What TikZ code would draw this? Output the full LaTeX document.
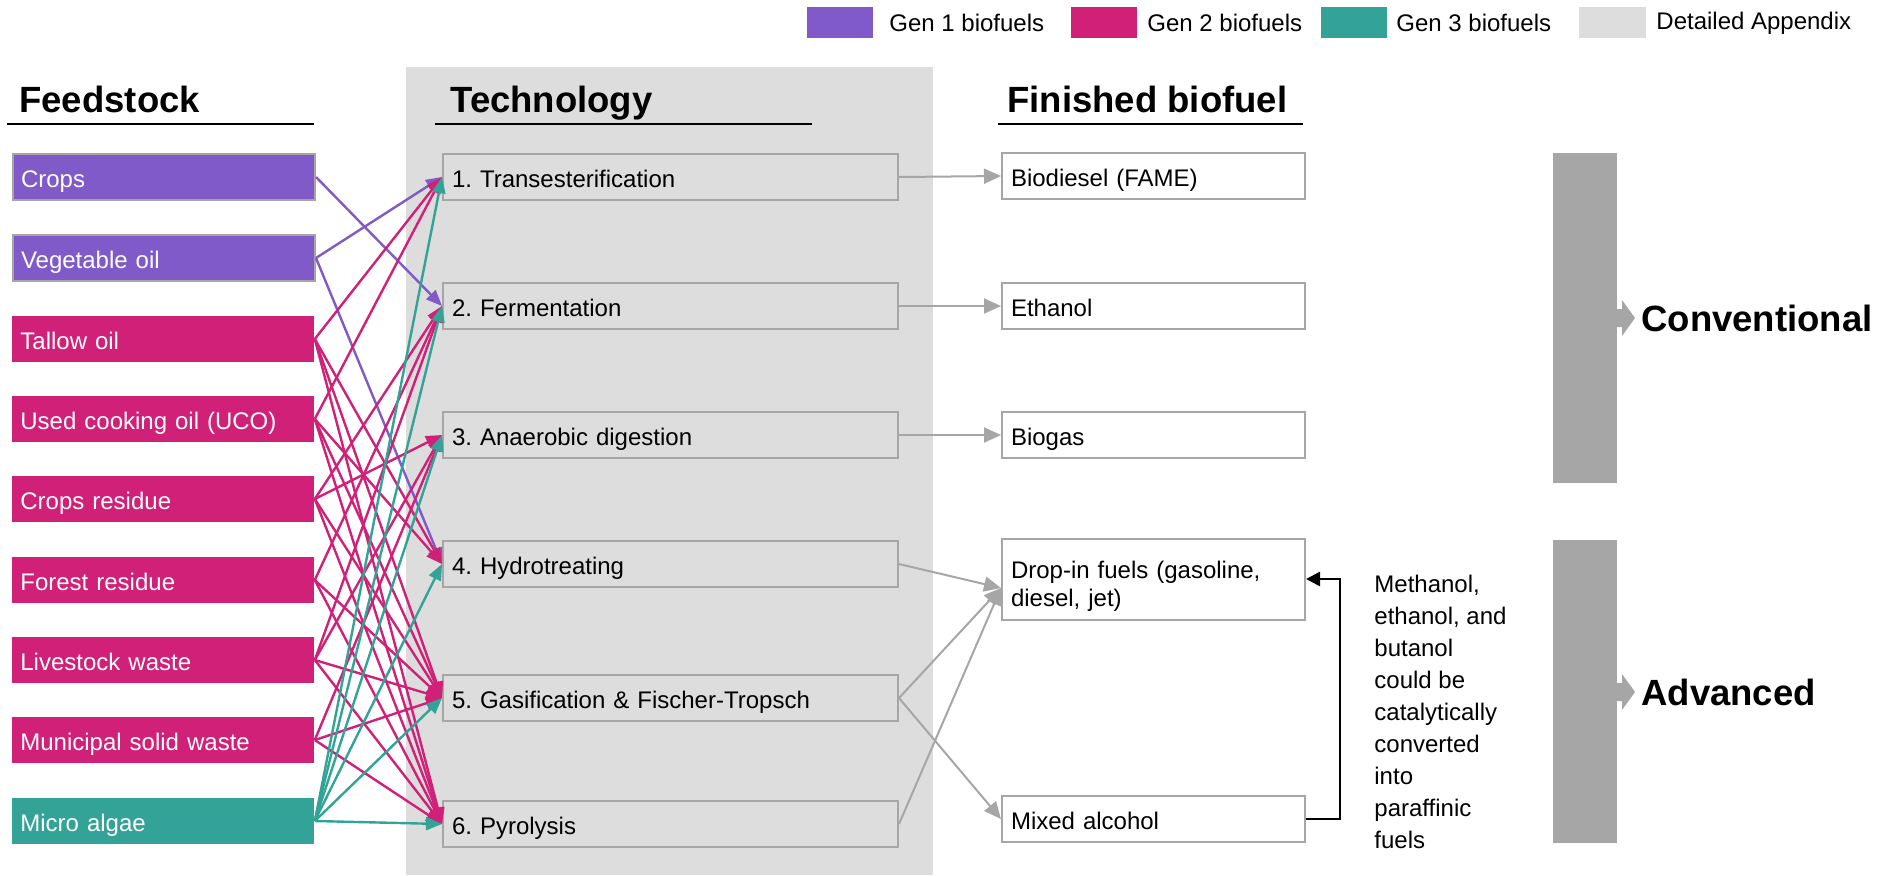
\documentclass[tikz,border=0pt]{standalone}
\usepackage{fontspec}
\setmainfont{Liberation Sans}
\usetikzlibrary{arrows.meta}
\frenchspacing
\definecolor{genone}{HTML}{7F5AC8}
\definecolor{gentwo}{HTML}{D02078}
\definecolor{genthree}{HTML}{33A397}
\definecolor{appgrey}{HTML}{DDDDDD}
\definecolor{edgegrey}{HTML}{A6A6A6}

\tikzset{
  boxbase/.style={anchor=west, minimum height=23pt, inner ysep=0pt, align=left,
    font=\fontsize{12}{13.8}\selectfont},
  oneline/.style={text height=10pt, text depth=0pt},
  feed/.style={boxbase, oneline, text width=143pt, inner xsep=4pt, text=white},
  tech/.style={boxbase, oneline, text width=218.5pt, inner xsep=4.5pt,
    draw=edgegrey, line width=1pt, fill=appgrey},
  fuelbox/.style={boxbase, text width=142.5pt, inner xsep=4.5pt,
    draw=edgegrey, line width=1pt, fill=white},
  fuel/.style={fuelbox, oneline},
  heading/.style={anchor=base west, inner sep=0pt, font=\fontsize{18.25}{20}\selectfont\bfseries},
  legtext/.style={anchor=west, inner sep=0pt, font=\fontsize{12}{14}\selectfont},
  rule/.style={black, line width=1.2pt},
  gone/.style={genone, line width=1.2pt, -{Triangle[length=8pt,width=6.5pt]}},
  gtwo/.style={gentwo, line width=1.2pt, -{Triangle[length=8pt,width=6.5pt]}},
  gthree/.style={genthree, line width=1.2pt, -{Triangle[length=8pt,width=6.5pt]}},
  product/.style={edgegrey, line width=1pt, -{Triangle[length=8.5pt,width=7.5pt]}},
}

\begin{document}
\begin{tikzpicture}[x=0.5pt,y=-0.5pt]
  \useasboundingbox (0,0) rectangle (1878,875);

  % legend
  \fill[genone] (807,7) rectangle (873,38);
  \node[legtext] (leg1) at (889,23) {Gen 1 biofuels};
  \fill[gentwo] (1071,7) rectangle (1137,38);
  \node[legtext] (leg2) at (1147,23) {Gen 2 biofuels};
  \fill[genthree] (1321,7) rectangle (1387,38);
  \node[legtext] (leg3) at (1396,23) {Gen 3 biofuels};
  \fill[appgrey] (1579,7) rectangle (1646,38);
  \node[legtext] (leg4) at (1656,23) {Detailed Appendix};

  % appendix panel
  \fill[appgrey] (406,67) rectangle (933,875);

  % headings
  \node[heading] (feedhead) at (19,112) {Feedstock};
  \draw[rule] (7,124) -- (314,124);
  \node[heading] (techhead) at (450,112) {Technology};
  \draw[rule] (435,124) -- (812,124);
  \node[heading] (fuelhead) at (1007,112) {Finished biofuel};
  \draw[rule] (998,124) -- (1303,124);

  % feedstock
  \node[feed, fill=genone, draw=edgegrey, line width=1pt] (crops) at (12,177) {Crops};
  \node[feed, fill=genone, draw=edgegrey, line width=1pt] (veg) at (12,258) {Vegetable oil};
  \node[feed, fill=gentwo] (tallow) at (12,339) {Tallow oil};
  \node[feed, fill=gentwo] (uco) at (12,419) {Used cooking oil (UCO)};
  \node[feed, fill=gentwo] (cropres) at (12,499) {Crops residue};
  \node[feed, fill=gentwo] (forres) at (12,580) {Forest residue};
  \node[feed, fill=gentwo] (livestock) at (12,660) {Livestock waste};
  \node[feed, fill=gentwo] (msw) at (12,740) {Municipal solid waste};
  \node[feed, fill=genthree] (algae) at (12,821) {Micro algae};

  % technology
  \node[tech] (tech1) at (442,177) {1. Transesterification};
  \node[tech] (tech2) at (442,306) {2. Fermentation};
  \node[tech] (tech3) at (442,435) {3. Anaerobic digestion};
  \node[tech] (tech4) at (442,564) {4. Hydrotreating};
  \node[tech] (tech5) at (442,698) {5. Gasification \& Fischer-Tropsch};
  \node[tech] (tech6) at (442,824) {6. Pyrolysis};

  % finished biofuel
  \node[fuel] (fame) at (1001,176) {Biodiesel (FAME)};
  \node[fuel] (ethanol) at (1001,306) {Ethanol};
  \node[fuel] (biogas) at (1001,435) {Biogas};
  \node[fuelbox, minimum height=40.5pt] (dropin) at (1001,579) {\rule{0pt}{16pt}Drop-in fuels (gasoline,\\diesel, jet)};
  \node[fuel] (mixalc) at (1001,819) {Mixed alcohol};
  \coordinate (dropentry) at ([yshift=-4.5pt]dropin.west);

  % feedstock to technology
  \draw[gone] (crops.east) -- (tech2.west);
  \draw[gone] (veg.east) -- (tech1.west);
  \draw[gone] (veg.east) -- (tech4.west);
  \draw[gtwo] (tallow.east) -- (tech1.west);
  \draw[gtwo] (tallow.east) -- (tech4.west);
  \draw[gtwo] (tallow.east) -- (tech5.west);
  \draw[gtwo] (tallow.east) -- (tech6.west);
  \draw[gtwo] (uco.east) -- (tech1.west);
  \draw[gtwo] (uco.east) -- (tech4.west);
  \draw[gtwo] (uco.east) -- (tech5.west);
  \draw[gtwo] (uco.east) -- (tech6.west);
  \draw[gtwo] (cropres.east) -- (tech2.west);
  \draw[gtwo] (cropres.east) -- (tech3.west);
  \draw[gtwo] (cropres.east) -- (tech5.west);
  \draw[gtwo] (cropres.east) -- (tech6.west);
  \draw[gtwo] (forres.east) -- (tech2.west);
  \draw[gtwo] (forres.east) -- (tech5.west);
  \draw[gtwo] (forres.east) -- (tech6.west);
  \draw[gtwo] (livestock.east) -- (tech2.west);
  \draw[gtwo] (livestock.east) -- (tech3.west);
  \draw[gtwo] (livestock.east) -- (tech5.west);
  \draw[gtwo] (livestock.east) -- (tech6.west);
  \draw[gtwo] (msw.east) -- (tech3.west);
  \draw[gtwo] (msw.east) -- (tech5.west);
  \draw[gtwo] (msw.east) -- (tech6.west);
  \draw[gthree] (algae.east) -- (tech1.west);
  \draw[gthree] (algae.east) -- (tech2.west);
  \draw[gthree] (algae.east) -- (tech3.west);
  \draw[gthree] (algae.east) -- (tech4.west);
  \draw[gthree] (algae.east) -- (tech5.west);
  \draw[gthree] (algae.east) -- (tech6.west);

  % technology to finished biofuel
  \draw[product] (tech1.east) -- (fame.west);
  \draw[product] (tech2.east) -- (ethanol.west);
  \draw[product] (tech3.east) -- (biogas.west);
  \draw[product] (tech4.east) -- (dropentry);
  \draw[product] (tech5.east) -- (dropentry);
  \draw[product] (tech5.east) -- (mixalc.west);
  \draw[product] (tech6.east) -- (dropentry);

  % alcohol upgrading
  \draw[black, line width=1.3pt, -{Triangle[length=7pt,width=7pt]}] (mixalc.east) -- ++(34,0) |- (dropin.east);
  \node[anchor=north west, inner sep=0pt, align=left, font=\fontsize{12}{15.95}\selectfont] (note) at (1374,575)
    {Methanol,\\ethanol, and\\butanol\\could be\\catalytically\\converted\\into\\paraffinic\\fuels};

  % categories
  \fill[edgegrey] (1553,153) rectangle (1617,483);
  \fill[edgegrey] (1616,309) -- (1622,309) -- (1622,300) -- (1635,318) -- (1622,336) -- (1622,327) -- (1616,327) -- cycle;
  \node[heading, anchor=west] (conv) at (1641,318) {Conventional};
  \fill[edgegrey] (1553,540) rectangle (1617,843);
  \fill[edgegrey] (1616,683) -- (1622,683) -- (1622,674) -- (1635,692) -- (1622,710) -- (1622,701) -- (1616,701) -- cycle;
  \node[heading, anchor=west] (adv) at (1641,692) {Advanced};
\end{tikzpicture}
\end{document}
